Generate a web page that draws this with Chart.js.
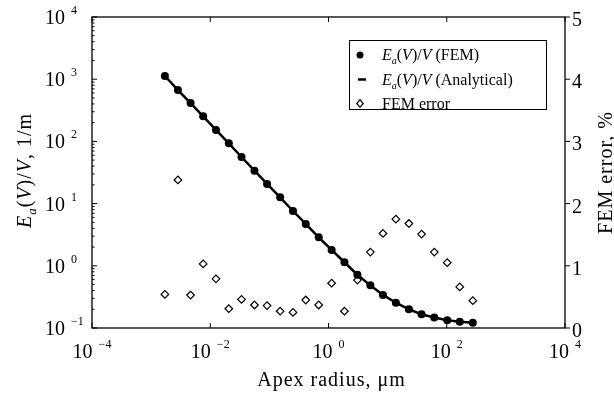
<!DOCTYPE html>
<html>
<head>
<meta charset="utf-8">
<title>Apex radius vs field</title>
<script src="https://cdn.jsdelivr.net/npm/chart.js@4"></script>
<style>
  html, body { margin: 0; padding: 0; background: #fff; }
  #wrap { width: 614px; height: 394px; }
</style>
</head>
<body>
<div id="wrap"><canvas id="myChart" width="614" height="394"></canvas></div>
<script>
'use strict';

// apex radius, um
let radius = [0.00171, 0.00284, 0.00465, 0.00759, 0.0125, 0.0206, 0.0338, 0.056, 0.0914, 0.152,
  0.251, 0.412, 0.683, 1.13, 1.86, 3.08, 5.1, 8.34, 13.8, 22.9, 37.5, 61.5, 102, 166, 276];
// Ea(V)/V, 1/m
let femField = [1125, 670, 414, 253, 153, 93.1, 56.1, 33.8, 20.7, 12.6,
  7.6, 4.7, 2.87, 1.8, 1.14, 0.719, 0.485, 0.34, 0.255, 0.2, 0.166, 0.147, 0.133, 0.126, 0.122];
let analyticalField = [1125, 670, 414, 253, 153, 93.1, 56.1, 33.8, 20.7, 12.6,
  7.6, 4.7, 2.87, 1.8, 1.14, 0.719, 0.485, 0.34, 0.255, 0.2, 0.166, 0.147, 0.133, 0.126, 0.122];
// FEM error, %
let femError = [0.54, 2.38, 0.53, 1.03, 0.79, 0.31, 0.46, 0.37, 0.36, 0.27,
  0.25, 0.45, 0.37, 0.72, 0.27, 0.77, 1.22, 1.52, 1.75, 1.68, 1.51, 1.22, 1.05, 0.66, 0.44];

let xTickExp = [-4, -2, 0, 2, 4];
let yTickExp = [-1, 0, 1, 2, 3, 4];
let errTicks = [0, 1, 2, 3, 4, 5];

const serif = '"Liberation Serif", "Times New Roman", serif';
const ctx = document.getElementById('myChart').getContext('2d');

function pts(ys) {
  return radius.map((r, i) => ({ x: r, y: ys[i] }));
}

function expText(e) {
  return e < 0 ? '\u2212' + Math.abs(e) : String(e);
}

// draw a list of [text, font, dy] pieces one after another
function runsWidth(c, runs) {
  let w = 0;
  runs.forEach(r => { c.font = r[1]; w += c.measureText(r[0]).width; });
  return w;
}
function drawRuns(c, runs, x, y) {
  runs.forEach(r => {
    c.font = r[1];
    c.fillText(r[0], x, y + (r[2] || 0));
    x += c.measureText(r[0]).width;
  });
}

function fieldRuns(size, tail) {
  let it = 'italic ' + size + 'px ' + serif;
  let up = size + 'px ' + serif;
  let sub = 'italic ' + Math.round(size * 0.65) + 'px ' + serif;
  return [['E', it], ['a', sub, Math.round(size * 0.25)], ['(', up], ['V', it], [')/', up], ['V', it], [tail, up]];
}

const decorations = {
  id: 'decorations',
  afterDraw(chart) {
    const c = chart.ctx;
    const a = chart.chartArea;
    const xs = chart.scales.x, ys = chart.scales.y, es = chart.scales.y1;
    c.save();
    c.strokeStyle = '#000';
    c.fillStyle = '#000';

    // frame
    c.lineWidth = 1.3;
    c.strokeRect(a.left, a.top, a.right - a.left, a.bottom - a.top);

    // ticks
    c.lineWidth = 1;
    c.beginPath();
    xTickExp.forEach(e => {
      let px = xs.getPixelForValue(Math.pow(10, e));
      c.moveTo(px, a.bottom); c.lineTo(px, a.bottom - 5);
      c.moveTo(px, a.top); c.lineTo(px, a.top + 5);
    });
    yTickExp.forEach(e => {
      let py = ys.getPixelForValue(Math.pow(10, e));
      c.moveTo(a.left, py); c.lineTo(a.left + 5, py);
      if (e < 4) {
        for (let m = 2; m < 10; m++) {
          py = ys.getPixelForValue(m * Math.pow(10, e));
          c.moveTo(a.left, py); c.lineTo(a.left + 2.5, py);
        }
      }
    });
    errTicks.forEach(v => {
      let py = es.getPixelForValue(v);
      c.moveTo(a.right, py); c.lineTo(a.right + 5, py);
    });
    c.stroke();

    // tick labels
    const big = '20px ' + serif, small = '12px ' + serif;
    c.textBaseline = 'alphabetic';
    c.textAlign = 'left';
    xTickExp.forEach(e => {
      let px = xs.getPixelForValue(Math.pow(10, e));
      let runs = [['10', big], ['  ', small], [expText(e), small, -10]];
      let w = runsWidth(c, runs);
      drawRuns(c, runs, px - w / 2, a.bottom + 30);
    });
    yTickExp.forEach(e => {
      let py = ys.getPixelForValue(Math.pow(10, e));
      drawRuns(c, [['10', big], ['  ', small], [expText(e), small, -10]], a.left - 47, py + 7);
    });
    errTicks.forEach(v => {
      let py = es.getPixelForValue(v);
      c.font = big;
      c.fillText(String(v), a.right + 7, py + 9);
    });

    // axis titles
    c.letterSpacing = '1px';
    let xt = [['Apex radius, \u03bcm', big]];
    drawRuns(c, xt, (a.left + a.right) / 2 + 3 - runsWidth(c, xt) / 2, 386);

    let midY = (a.top + a.bottom) / 2;
    c.save();
    c.translate(31, midY - 2);
    c.rotate(-Math.PI / 2);
    let lt = fieldRuns(20, ', 1/m');
    drawRuns(c, lt, -runsWidth(c, lt) / 2, 0);
    c.restore();

    c.save();
    c.translate(612, midY);
    c.rotate(-Math.PI / 2);
    let rt = [['FEM error, %', big]];
    drawRuns(c, rt, -runsWidth(c, rt) / 2, 0);
    c.restore();
    c.letterSpacing = '0px';

    // legend
    const lx = 349, ly = 40;
    c.lineWidth = 1;
    c.strokeRect(lx + 0.5, ly + 0.5, 197, 69);
    const rows = [ly + 15, ly + 39.5, ly + 63.5];
    c.beginPath();
    c.arc(lx + 11, rows[0], 3.5, 0, Math.PI * 2);
    c.fill();
    c.lineWidth = 2.5;
    c.beginPath();
    c.moveTo(lx + 9, rows[1]); c.lineTo(lx + 17, rows[1]);
    c.stroke();
    c.lineWidth = 1.2;
    c.beginPath();
    c.moveTo(lx + 11, rows[2] - 3.8); c.lineTo(lx + 14.2, rows[2]);
    c.lineTo(lx + 11, rows[2] + 3.8); c.lineTo(lx + 7.8, rows[2]);
    c.closePath();
    c.stroke();
    const tx = lx + 33;
    drawRuns(c, fieldRuns(16, ' (FEM)'), tx, rows[0] + 5);
    drawRuns(c, fieldRuns(16, ' (Analytical)'), tx, rows[1] + 5);
    drawRuns(c, [['FEM error', '16px ' + serif]], tx, rows[2] + 5);

    c.restore();
  }
};

let chartObject = {
  type: 'scatter',
  data: {
    datasets: [{
      label: 'Ea(V)/V (FEM)',
      data: pts(femField),
      yAxisID: 'y',
      pointStyle: 'circle',
      pointRadius: 4,
      backgroundColor: '#000',
      borderColor: '#000',
      borderWidth: 0,
      showLine: false
    },
    {
      label: 'Ea(V)/V (Analytical)',
      data: pts(analyticalField),
      yAxisID: 'y',
      showLine: true,
      pointRadius: 0,
      borderColor: '#000',
      borderWidth: 2.5,
      fill: false
    },
    {
      label: 'FEM error',
      data: pts(femError),
      yAxisID: 'y1',
      pointStyle: 'rectRot',
      pointRadius: 3.8,
      backgroundColor: '#fff',
      borderColor: '#000',
      borderWidth: 1.2,
      showLine: false
    }]
  },
  options: {
    responsive: false,
    animation: false,
    events: [],
    layout: { padding: { left: 92, right: 49, top: 17, bottom: 66 } },
    plugins: { legend: { display: false }, tooltip: { enabled: false } },
    scales: {
      x: { type: 'logarithmic', min: 1e-4, max: 1e4, display: false },
      y: { type: 'logarithmic', min: 0.1, max: 1e4, display: false },
      y1: { type: 'linear', min: 0, max: 5, display: false }
    }
  },
  plugins: [decorations]
};

new Chart(ctx, chartObject);
</script>
</body>
</html>
